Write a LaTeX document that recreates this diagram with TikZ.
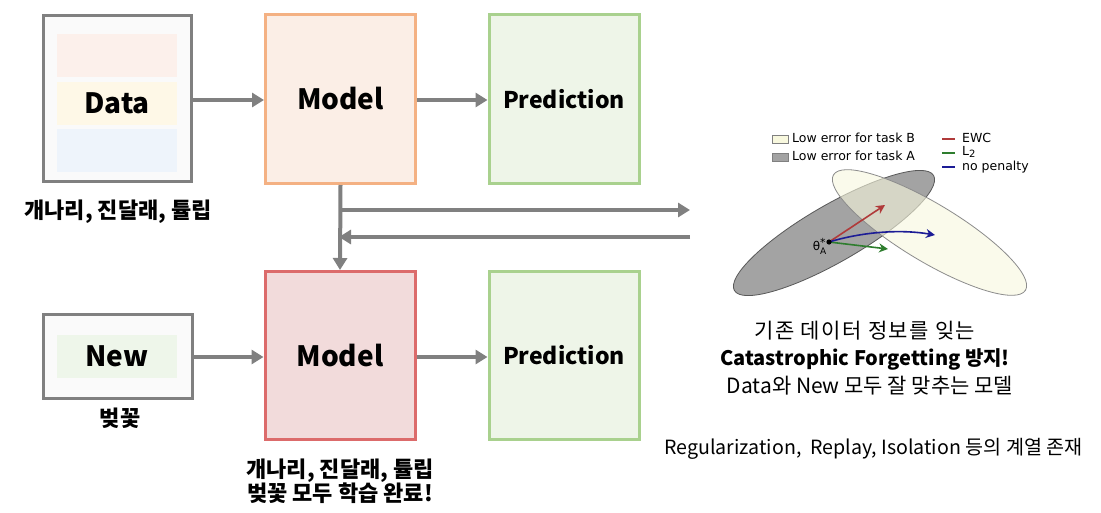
\documentclass[tikz,border=0pt]{standalone}
\usepackage{fontspec}
\setmainfont{Noto Sans CJK KR}
\newfontfamily\dvs{DejaVu Sans}
\usetikzlibrary{arrows.meta}

\definecolor{arrgray}{HTML}{808080}
\definecolor{boxgray}{HTML}{808080}
\definecolor{peachB}{HTML}{F4B183}
\definecolor{peachF}{HTML}{FBEEE6}
\definecolor{greenB}{HTML}{A9D18E}
\definecolor{greenF}{HTML}{EEF5E8}
\definecolor{redB}{HTML}{DC6B6B}
\definecolor{redF}{HTML}{F2DBDB}
\definecolor{stripPink}{HTML}{FCF0EB}
\definecolor{stripYel}{HTML}{FEF8E7}
\definecolor{stripBlue}{HTML}{EEF4FB}
\definecolor{stripGreen}{HTML}{EEF6EA}
\definecolor{ellA}{HTML}{A3A3A3}
\definecolor{ellB}{HTML}{F8F8DE}
\definecolor{ewc}{HTML}{B03A3A}
\definecolor{ltwo}{HTML}{2E7D2E}
\definecolor{nopen}{HTML}{1C1C96}

\tikzset{
  inbox/.style={draw=boxgray, fill=white!98!black, line width=3pt, inner sep=0pt},
  modelbox/.style={line width=3pt, inner sep=0pt, minimum width=150pt, minimum height=169pt},
  strip/.style={inner sep=0pt, minimum width=120pt, minimum height=43pt},
  bigtxt/.style={font=\bfseries\fontsize{28}{32}\selectfont},
  predtxt/.style={font=\bfseries\fontsize{23}{28}\selectfont},
  lbl/.style={font=\bfseries\fontsize{22}{26}\selectfont, align=center},
  note/.style={font=\fontsize{21}{27}\selectfont, align=center},
  arr/.style={draw=arrgray, line width=4pt, -{Triangle[length=12pt,width=14pt]}},
  legtxt/.style={font=\dvs\fontsize{12.5}{14}\selectfont, anchor=west, inner sep=0pt},
  vec/.style={line width=1.6pt, -{Stealth[length=9pt,width=9pt]}},
}

\begin{document}
\begin{tikzpicture}[x=1pt,y=-1pt]
\fill[white] (0,0) rectangle (1101,512);
\path[use as bounding box] (0,0) rectangle (1101,512);

% first stage: old data
\node[inbox, minimum width=148pt, minimum height=166pt] (data) at (117,98) {};
\node[strip, fill=stripPink] (s1) at (117,55.5) {};
\node[strip, fill=stripYel, bigtxt] (s2) at (117,103) {Data};
\node[strip, fill=stripBlue] (s3) at (117,150) {};
\node[lbl] (datalbl) at (118,212) {개나리, 진달래, 튤립};

\node[modelbox, draw=peachB, fill=peachF, bigtxt] (m1) at (340.5,99) {Model};
\node[modelbox, draw=greenB, fill=greenF, predtxt] (p1) at (564,99) {Prediction};

% second stage: new data
\node[inbox, minimum width=149pt, minimum height=84pt] (new) at (117.5,356) {};
\node[strip, fill=stripGreen, bigtxt] (s4) at (117,356.5) {New};
\node[lbl] (newlbl) at (120,418) {벚꽃};

\node[modelbox, draw=redB, fill=redF, bigtxt, minimum height=168pt] (m2) at (340,355.5) {Model};
\node[modelbox, draw=greenB, fill=greenF, predtxt, minimum height=168pt] (p2) at (564,355.5) {Prediction};
\node[lbl] (m2lbl) at (340,481) {개나리, 진달래, 튤립\\[-2pt]벚꽃 모두 학습 완료!};

% connectors
\draw[arr] (data.east |- 0,100) -- (m1.west |- 0,100);
\draw[arr] (m1.east |- 0,100) -- (p1.west |- 0,100);
\draw[arr] (new.east |- 0,357) -- (m2.west |- 0,357);
\draw[arr] (m2.east |- 0,357) -- (p2.west |- 0,357);
\draw[arr] (m1.south) -- (m2.north);
\coordinate (brA) at (340.5,210);
\coordinate (brB) at (690,210);
\coordinate (rtA) at (690,237);
\coordinate (rtB) at (339,237);
\draw[arr] (brA) -- (brB);
\draw[arr] (rtA) -- (rtB);

% loss landscape sketch
\coordinate (cA) at (834,233);
\coordinate (cB) at (929.5,232.5);
\draw[draw=black!65, fill=ellA, line width=0.8pt, rotate around={30:(cA)}]
  (cA) ellipse [x radius=115, y radius=28.5];
\draw[draw=black!45, fill=ellB, fill opacity=0.6, line width=0.8pt, rotate around={-31:(cB)}]
  (cB) ellipse [x radius=112, y radius=29];

\coordinate (theta) at (829,242);
\coordinate (tEWC) at (885,205);
\coordinate (tL2) at (888,249);
\coordinate (tNP) at (935,235);
\draw[vec, ewc] (theta) -- (tEWC);
\draw[vec, ltwo] (theta) -- (tL2);
\draw[vec, nopen] (theta) .. controls (862,232) and (900,229) .. (tNP);
\fill (theta) circle (2.6pt);
\node[font=\dvs\fontsize{12}{12}\selectfont, anchor=east, inner sep=1pt] (thlbl) at (828,246)
  {θ$^{\hbox{\dvs\fontsize{11}{11}\selectfont *}}_{\hbox{\dvs\fontsize{9}{9}\selectfont A}}$};

% legend
\node[draw=black!50, fill=ellB, line width=0.6pt, minimum width=16pt, minimum height=8pt, inner sep=0pt] (kB) at (780,139) {};
\node[draw=black!50, fill=ellA, line width=0.6pt, minimum width=16pt, minimum height=8pt, inner sep=0pt] (kA) at (780,157) {};
\node[legtxt] (tB) at (792,138) {Low error for task B};
\node[legtxt] (tA) at (792,156) {Low error for task A};
\coordinate (le1) at (942,139); \coordinate (le2) at (955,139);
\coordinate (ll1) at (942,153); \coordinate (ll2) at (955,153);
\coordinate (ln1) at (942,167); \coordinate (ln2) at (955,167);
\draw[ewc, line width=2pt] (le1) -- (le2);
\draw[ltwo, line width=2pt] (ll1) -- (ll2);
\draw[nopen, line width=2pt] (ln1) -- (ln2);
\node[legtxt] (tE) at (962,138) {EWC};
\node[legtxt] (tL) at (962,152) {L\raisebox{-2pt}{\fontsize{10}{10}\selectfont 2}};
\node[legtxt] (tN) at (962,167) {no penalty};

% explanation
\node[note, font=\addfontfeature{LetterSpace=7}\fontsize{21}{27}\selectfont] (n1) at (865,331) {기존 데이터 정보를 잊는};
\node[note, font=\bfseries\fontsize{20}{27}\selectfont] (n2) at (865,359) {Catastrophic Forgetting 방지!};
\node[note] (n3) at (870,386) {Data와 New 모두 잘 맞추는 모델};
\node[note, font=\fontsize{19.6}{27}\selectfont] (n4) at (873.5,449) {Regularization,\ \ Replay, Isolation 등의 계열 존재};
\end{tikzpicture}
\end{document}
